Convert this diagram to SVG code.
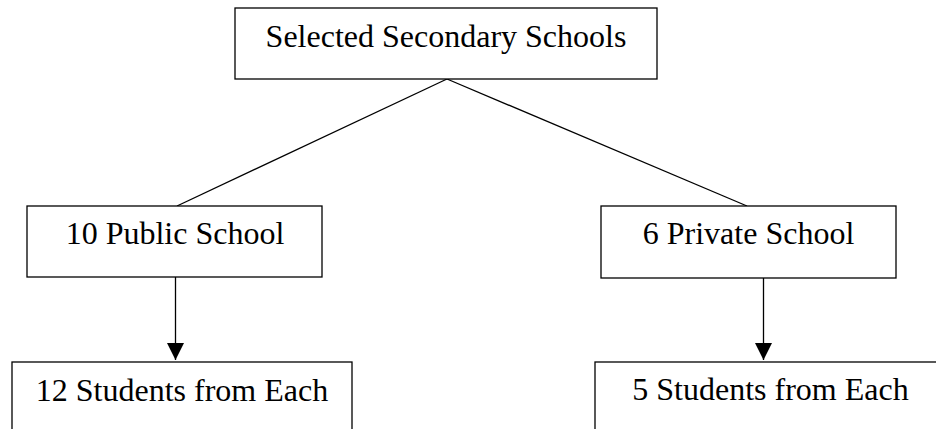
<svg xmlns="http://www.w3.org/2000/svg" width="936" height="429" viewBox="0 0 936 429">
<style>
.box{fill:#fff;stroke:#000;stroke-width:1.3}
.lbl{font-family:"Liberation Serif","Times New Roman",serif;font-size:32px;fill:#000;text-anchor:middle}
.ln{stroke:#000;stroke-width:1.3;fill:none}
</style>
<defs>
<marker id="ah" markerUnits="userSpaceOnUse" markerWidth="18" markerHeight="17" refX="17" refY="8.5" orient="auto">
<path d="M0,0 L17,8.5 L0,17 Z" fill="#000"/>
</marker>
</defs>
<rect width="936" height="429" fill="#fff"/>
<g id="connectors">
<line class="ln" x1="447" y1="79" x2="177" y2="206"/>
<line class="ln" x1="447" y1="79" x2="747" y2="206"/>
<line class="ln" x1="175.5" y1="277" x2="175.5" y2="360" marker-end="url(#ah)"/>
<line class="ln" x1="763.5" y1="278" x2="763.5" y2="360" marker-end="url(#ah)"/>
</g>
<g id="node-top">
<rect class="box" x="235" y="8" width="422" height="71"/>
<text class="lbl" x="446" y="47">Selected Secondary Schools</text>
</g>
<g id="node-public">
<rect class="box" x="27" y="206" width="295" height="71"/>
<text class="lbl" x="175" y="244">10 Public School</text>
</g>
<g id="node-private">
<rect class="box" x="601" y="206" width="295" height="72"/>
<text class="lbl" x="748.5" y="244">6 Private School</text>
</g>
<g id="node-public-students">
<rect class="box" x="12" y="362" width="340" height="80"/>
<text class="lbl" x="182" y="401">12 Students from Each</text>
</g>
<g id="node-private-students">
<rect class="box" x="595" y="362" width="352" height="80"/>
<text class="lbl" x="770.5" y="400">5 Students from Each</text>
</g>
</svg>
